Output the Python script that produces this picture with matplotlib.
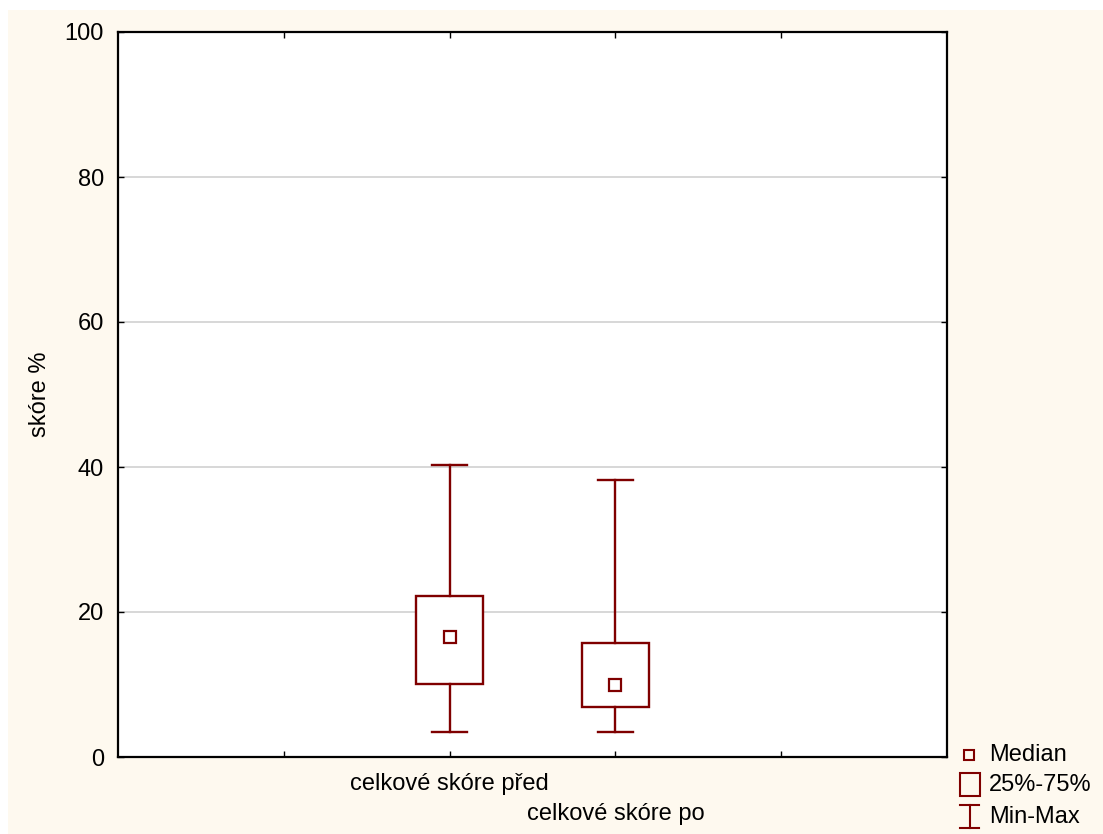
import matplotlib.pyplot as plt
from matplotlib.patches import Rectangle
from matplotlib.lines import Line2D

plt.rcParams['font.family'] = ['Liberation Sans', 'DejaVu Sans']

labels = ['celkové skóre před', 'celkové skóre po']
positions = [2, 3]
q_min = [3.4, 3.4]
q25 = [10.1, 6.9]
median = [16.6, 9.9]
q75 = [22.2, 15.7]
q_max = [40.3, 38.2]

col = '#7f0000'
cream = '#fef9ef'
fs = 17

W, H = 1103, 834
fig = plt.figure(figsize=(W / 100, H / 100), dpi=100)
fig.patch.set_facecolor('white')
fig.patches.append(Rectangle((8 / W, 0), 1, 1 - 10 / H, transform=fig.transFigure,
                             facecolor=cream, edgecolor='none', zorder=-10))

ax = fig.add_axes([118 / W, 1 - 757 / H, (947 - 118) / W, (757 - 32) / H])
ax.set_facecolor('white')

box_w = 0.40
cap_w = 0.21
for i, x in enumerate(positions):
    ax.add_patch(Rectangle((x - box_w / 2, q25[i]), box_w, q75[i] - q25[i],
                           facecolor='white', edgecolor=col, lw=1.7, zorder=3))
    ax.plot([x, x], [q75[i], q_max[i]], color=col, lw=1.7, zorder=3)
    ax.plot([x, x], [q_min[i], q25[i]], color=col, lw=1.7, zorder=3)
    ax.plot([x - cap_w / 2, x + cap_w / 2], [q_max[i]] * 2, color=col, lw=1.7, zorder=3)
    ax.plot([x - cap_w / 2, x + cap_w / 2], [q_min[i]] * 2, color=col, lw=1.7, zorder=3)
    ax.plot(x, median[i], marker='s', ms=8, mfc='white', mec=col, mew=1.6, zorder=4)

ax.set_xlim(0, 5)
ax.set_ylim(0, 100)
ax.set_yticks([0, 20, 40, 60, 80, 100])
ax.set_xticks([1, 2, 3, 4])
ax.set_xticklabels([])
ax.yaxis.grid(True, color='#d4d4d4', lw=1.3)
ax.set_axisbelow(True)
ax.tick_params(direction='in', length=4, width=1, top=True, right=True,
               labelsize=fs, pad=10)
for s in ax.spines.values():
    s.set_linewidth(1.6)

# staggered category labels
for i, x in enumerate(positions):
    ax.annotate(labels[i], xy=(x, 0), xycoords=('data', 'axes fraction'),
                xytext=(0, -27 - 30 * i), textcoords='offset pixels',
                ha='center', va='center', fontsize=fs)

ax.set_ylabel('skóre %', fontsize=fs, labelpad=10)

# legend drawn by hand outside the axes
def fx(px):
    return px / W

def fy(py):
    return 1 - py / H

fig.add_artist(Line2D([fx(969)], [fy(755)], marker='s', ms=7, mfc='none', mec=col,
                      mew=1.5, transform=fig.transFigure))
fig.add_artist(Rectangle((fx(960), fy(796)), fx(980) - fx(960), fy(773) - fy(796),
                         facecolor='none', edgecolor=col, lw=1.5, transform=fig.transFigure))
fig.add_artist(Line2D([fx(969.5), fx(969.5)], [fy(805), fy(828)], color=col, lw=1.5,
                      transform=fig.transFigure))
fig.add_artist(Line2D([fx(960), fx(979)], [fy(805), fy(805)], color=col, lw=1.5,
                      transform=fig.transFigure))
fig.add_artist(Line2D([fx(960), fx(979)], [fy(828), fy(828)], color=col, lw=1.5,
                      transform=fig.transFigure))
for txt, py in [('Median', 755), ('25%-75%', 785), ('Min-Max', 817)]:
    fig.text(fx(989), fy(py), txt, fontsize=fs, va='center', ha='left')

fig.savefig('out.png', dpi=100, facecolor=fig.get_facecolor())
